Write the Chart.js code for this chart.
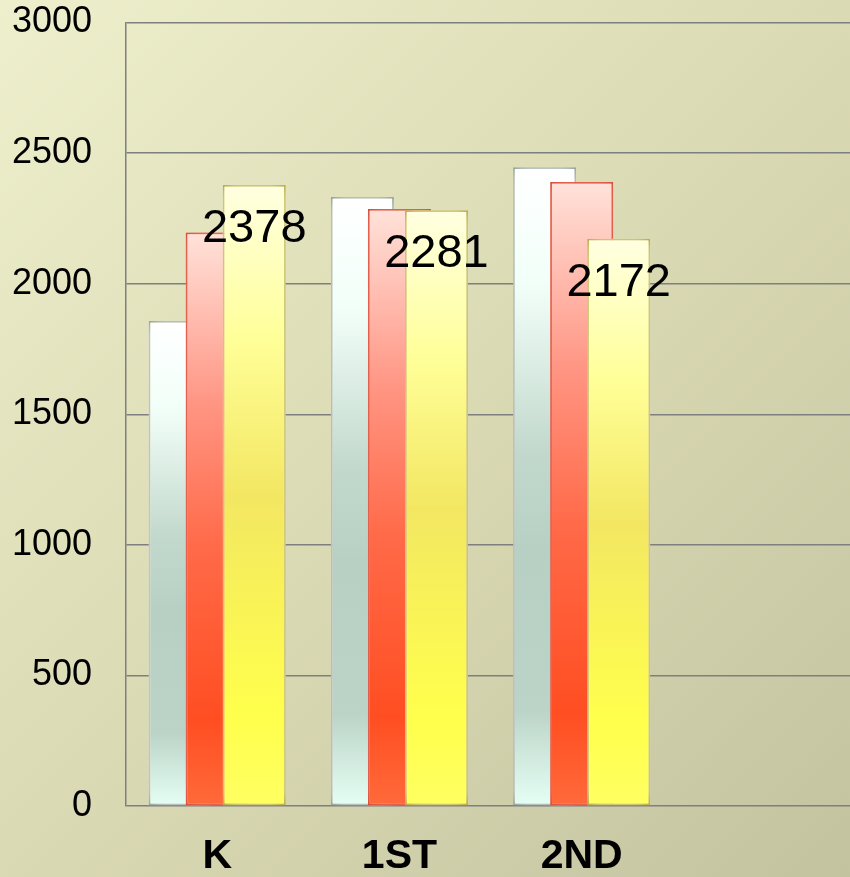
<!DOCTYPE html>
<html>
<head>
<meta charset="utf-8">
<script src="https://cdn.jsdelivr.net/npm/chart.js@4/dist/chart.umd.min.js"></script>
<style>
  html, body { margin: 0; padding: 0; width: 850px; height: 877px; overflow: hidden; }
  body { background: linear-gradient(135deg, #eeefcc 0%, #dcdcb6 45%, #c4c3a0 100%); }
  canvas { display: block; }
</style>
</head>
<body>
<canvas id="c" width="855" height="907"></canvas>
<script>
// ---- data ----
const categories = ['K', '1ST', '2ND', ''];
const series1 = [1857, 2332, 2446, null];
const series2 = [2196, 2286, 2389, null];
const series3 = [2378, 2281, 2172, null];
const yTicks = [0, 500, 1000, 1500, 2000, 2500, 3000];

// ---- styles ----
const gradStops = [
  [[0, '#ffffff'], [0.18, '#f2fff9'], [0.45, '#c2d8cc'], [0.6, '#b8d0c4'], [0.85, '#bcd4c8'], [1, '#e6fff4']],
  [[0, '#ffe2da'], [0.3, '#ff9583'], [0.55, '#ff6a48'], [0.85, '#ff4e22'], [1, '#ff6a3a']],
  [[0, '#ffffe2'], [0.25, '#ffff98'], [0.5, '#f3e762'], [0.85, '#ffff4c'], [1, '#ffff62']]
];
const borderCols = ['#7f908a', '#d0402f', '#aa9c28'];
const glowCols = ['rgba(255,255,255,1)', 'rgba(255,150,130,0.9)', 'rgba(255,255,215,1)'];

function barGradient(idx) {
  return function(ctx) {
    const chart = ctx.chart;
    const area = chart.chartArea;
    if (!area || ctx.parsed == null || ctx.parsed.y == null) return gradStops[idx][3][1];
    const yScale = chart.scales.y;
    const top = yScale.getPixelForValue(ctx.parsed.y);
    const bottom = yScale.getPixelForValue(0);
    if (!isFinite(top) || !isFinite(bottom) || top === bottom) return gradStops[idx][3][1];
    const g = chart.ctx.createLinearGradient(0, top, 0, bottom);
    gradStops[idx].forEach(s => g.addColorStop(s[0], s[1]));
    return g;
  };
}

const drawOrderPlugin = {
  id: 'drawOrder',
  beforeDatasetsDraw(chart) {
    const ctx = chart.ctx;
    const a = chart.chartArea;
    for (let i = 0; i < chart.data.datasets.length; i++) {
      const meta = chart.getDatasetMeta(i);
      ctx.save();
      ctx.beginPath();
      ctx.rect(a.left, 0, a.right - a.left, a.bottom + 2);
      ctx.clip();
      ctx.shadowColor = glowCols[i];
      ctx.shadowBlur = 14;
      meta.controller.draw();
      ctx.restore();
    }
    return false;
  },
  afterDraw(chart) {
    const ctx = chart.ctx;
    const meta = chart.getDatasetMeta(2);
    ctx.save();
    ctx.font = '47px "Liberation Sans", Arial, sans-serif';
    ctx.fillStyle = '#000000';
    ctx.textAlign = 'center';
    ctx.textBaseline = 'middle';
    meta.data.forEach((bar, i) => {
      const v = series3[i];
      if (v == null) return;
      ctx.fillText(String(v), bar.x, bar.y + 44);
    });
    ctx.restore();
  }
};

new Chart(document.getElementById('c'), {
  type: 'bar',
  data: {
    labels: categories,
    datasets: [series1, series2, series3].map((d, i) => ({
      data: d,
      backgroundColor: barGradient(i),
      borderColor: borderCols[i],
      borderWidth: 1.8,
      borderSkipped: false,
      barPercentage: 1.70,
      categoryPercentage: 0.61
    }))
  },
  options: {
    responsive: false,
    animation: false,
    events: [],
    layout: { padding: { left: 12, top: 22.5, right: 0, bottom: 0 } },
    plugins: { legend: { display: false }, tooltip: { enabled: false } },
    scales: {
      x: {
        grid: { display: false, drawTicks: false },
        border: { display: false },
        ticks: {
          color: '#000000',
          padding: 30,
          font: { family: '"Liberation Sans", Arial, sans-serif', size: 41, weight: 'bold', lineHeight: 1.0 },
          maxRotation: 0, autoSkip: false
        }
      },
      y: {
        min: 0, max: 3000,
        afterBuildTicks(scale) { scale.ticks = yTicks.map(v => ({ value: v })); },
        grid: { color: '#7f7f7f', lineWidth: 1.5, drawTicks: true, tickLength: 34, tickColor: 'rgba(0,0,0,0)' },
        border: { display: true, color: '#7f7f7f', width: 1.5 },
        ticks: {
          color: '#000000',
          padding: 0,
          callback: (v) => String(v),
          font: { family: '"Liberation Sans", Arial, sans-serif', size: 36, lineHeight: 1.0 }
        }
      }
    }
  },
  plugins: [drawOrderPlugin]
});
</script>
</body>
</html>
